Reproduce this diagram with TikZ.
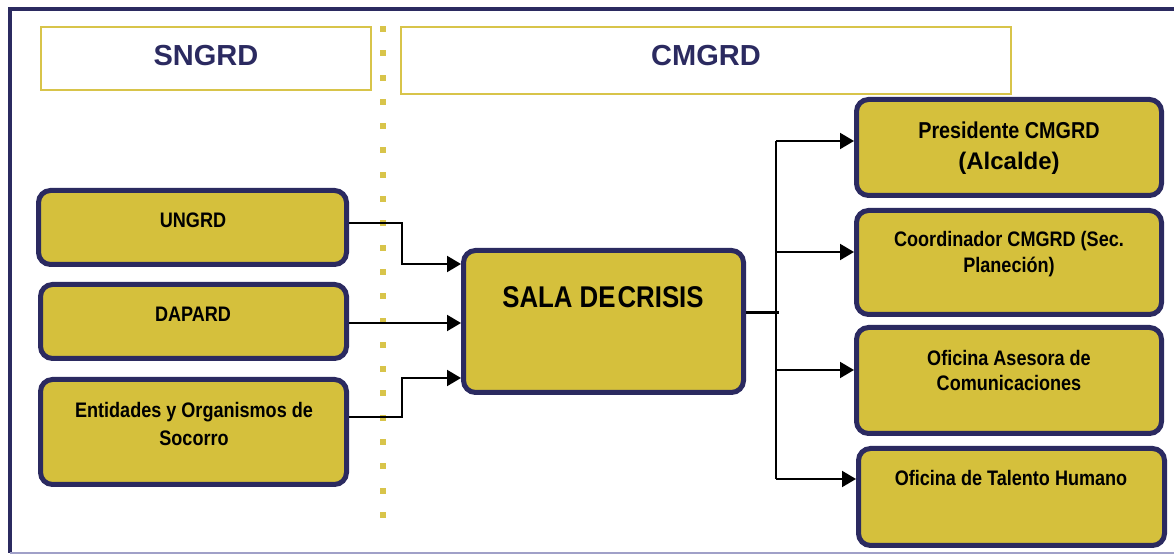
\documentclass[tikz,border=0pt]{standalone}
\usepackage{fontspec}
\setmainfont{Liberation Sans}
\newfontfamily\narrowfont[FakeStretch=0.86]{Liberation Sans}
\usepackage{tikz}
\usetikzlibrary{positioning, arrows.meta, calc}

\definecolor{navy}{RGB}{43,42,96}
\definecolor{gold}{RGB}{213,192,60}
\definecolor{dotgold}{RGB}{216,196,74}
\definecolor{lavender}{RGB}{160,160,200}

\tikzset{
  orgbox/.style={draw=navy, fill=gold, line width=2.5pt, rounded corners=6pt, inner sep=0pt},
  headbox/.style={draw=dotgold, line width=1pt, inner sep=0pt},
  headtxt/.style={text=navy, font=\bfseries\fontsize{14.5}{16}\selectfont, inner sep=0pt},
  boxtxt/.style={align=center, inner sep=0pt, font=\narrowfont\bfseries\fontsize{10.5}{14}\selectfont},
  link/.style={line width=1pt, black, -{Triangle[length=7pt,width=8pt]}}
}

\begin{document}
\begin{tikzpicture}[x=0.5pt,y=-0.5pt]
  \useasboundingbox (0,0) rectangle (1174,555);

  % frame
  \draw[navy, line width=2.25pt] (10,553) -- (10,9) -- (1174,9);
  \draw[lavender, line width=1pt] (10,553) -- (1174,553);

  % dotted divider
  \foreach \k in {0,...,20}
    \fill[dotgold] (380,{26+\k*24.3}) rectangle ++(6,6);

  % headers
  \node[headbox, minimum width=165pt, minimum height=31.5pt] (sngrd) at (205.5,59) {};
  \node[headtxt] (sngrd-txt) at (206,56) {SNGRD};
  \node[headbox, minimum width=305pt, minimum height=33.5pt] (cmgrd) at (705.5,61) {};
  \node[headtxt] (cmgrd-txt) at (706,56) {CMGRD};

  % left column
  \node[orgbox, minimum width=154pt, minimum height=37pt] (ungrd) at (192.5,227.5) {};
  \node[boxtxt] (ungrd-txt) at (193,220) {UNGRD};
  \node[orgbox, minimum width=153pt, minimum height=37pt] (dapard) at (193.5,321.5) {};
  \node[boxtxt] (dapard-txt) at (193,314) {DAPARD};
  \node[orgbox, minimum width=153pt, minimum height=52.5pt] (entid) at (193.5,432) {};
  \node[boxtxt] (entid-txt) at (194,424) {Entidades y Organismos de\\Socorro};

  % centre
  \node[orgbox, minimum width=140pt, minimum height=71pt] (sala) at (603.5,321.5) {};
  \node[boxtxt, font=\narrowfont\bfseries\fontsize{15}{18}\selectfont] (sala-txt) at (603,297) {SALA DE\kern1pt CRISIS};

  % right column
  \node[orgbox, minimum width=152.5pt, minimum height=48pt] (pres) at (1009,147.5) {};
  \node[boxtxt, font=\narrowfont\bfseries\fontsize{11.5}{15.5}\selectfont] (pres-txt) at (1009,148) {Presidente CMGRD\\{\normalfont\bfseries\fontsize{12}{15.5}\selectfont(Alcalde)}};
  \node[orgbox, minimum width=152.5pt, minimum height=52pt] (coord) at (1009,262.5) {};
  \node[boxtxt, font=\narrowfont\bfseries\fontsize{10.5}{13}\selectfont] (coord-txt) at (1009,254) {Coordinador CMGRD (Sec.\\Planeción)};
  \node[orgbox, minimum width=152.5pt, minimum height=53pt] (asesora) at (1009,380.5) {};
  \node[boxtxt, font=\narrowfont\bfseries\fontsize{10.5}{12.5}\selectfont] (asesora-txt) at (1009,370) {Oficina Asesora de\\Comunicaciones};
  \node[orgbox, minimum width=153pt, minimum height=48.5pt] (talento) at (1011.5,497) {};
  \node[boxtxt] (talento-txt) at (1011,478) {Oficina de Talento Humano};

  % inputs to the crisis room
  \draw[link] ($(ungrd.east)+(0,-4.5)$) -| ($(sala.west)+(-59.5,-57.5)$) -- ($(sala.west)+(0,-57.5)$);
  \draw[link] ($(dapard.east)+(0,1.5)$) -- ($(sala.west)+(0,1.5)$);
  \draw[link] ($(entid.east)+(0,-15)$) -| ($(sala.west)+(-59.5,56.5)$) -- ($(sala.west)+(0,56.5)$);

  % outputs
  \coordinate (bus) at (776,313);
  \coordinate (pres-in) at ($(pres.west)+(0,-6.5)$);
  \coordinate (coord-in) at ($(coord.west)+(0,-10.5)$);
  \coordinate (asesora-in) at ($(asesora.west)+(0,-10.5)$);
  \coordinate (talento-in) at ($(talento.west)+(0,-18)$);
  \draw[line width=1.5pt] ($(sala.east)+(0,-8.5)$) -- ($(bus)+(3,0)$);
  \draw[line width=1pt] (bus |- pres-in) -- (bus |- talento-in);
  \draw[link] (bus |- pres-in) -- (pres-in);
  \draw[link] (bus |- coord-in) -- (coord-in);
  \draw[link] (bus |- asesora-in) -- (asesora-in);
  \draw[link] (bus |- talento-in) -- (talento-in);

\end{tikzpicture}
\end{document}
